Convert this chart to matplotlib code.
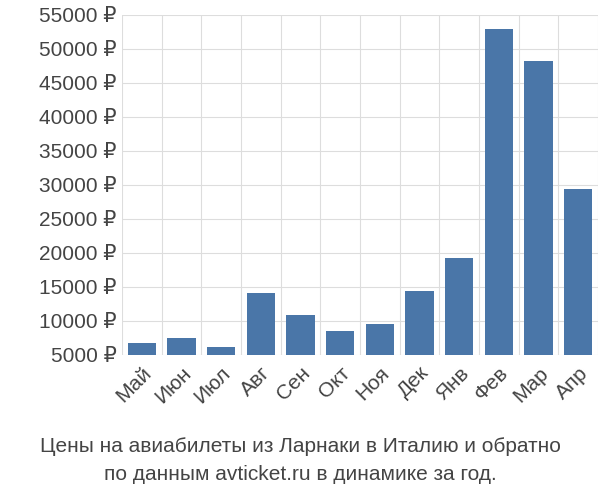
import matplotlib
matplotlib.use("Agg")
import matplotlib.pyplot as plt
import numpy as np

months = ["Май","Июн","Июл","Авг","Сен","Окт","Ноя","Дек","Янв","Фев","Мар","Апр"]
prices = [6760, 7500, 6180, 14100, 10900, 8500, 9560, 14400, 19260, 52940, 48240, 29400]
yticks = list(range(5000, 55001, 5000))

plt.rcParams["font.family"] = ["Liberation Sans", "DejaVu Sans"]
fig = plt.figure(figsize=(6, 5), dpi=100)
ax = fig.add_axes([122/600, 145/500, 476/600, 340/500])
x = np.arange(len(months))
ax.bar(x, [p - 5000 for p in prices], bottom=5000, width=0.72, color="#4a76a8", zorder=3)
ax.set_xlim(-0.5, len(months) - 0.5)
ax.set_ylim(5000, 55000)
ax.set_yticks(yticks)
ax.set_yticklabels([f"{v} ₽" for v in yticks], fontsize=15, color="#444444")
ax.set_xticks(x)
ax.set_xticklabels(months, rotation=45, ha="right", rotation_mode="anchor", fontsize=15, color="#444444")
ax.set_xticks(np.arange(-0.5, len(months), 1), minor=True)
ax.grid(axis="y", color="#dddddd", zorder=0)
ax.grid(axis="x", which="minor", color="#dddddd", zorder=0)
ax.tick_params(axis="x", which="major", length=0, pad=6)
ax.tick_params(axis="x", which="minor", length=0)
ax.tick_params(axis="y", length=0, pad=4)
for s in ax.spines.values():
    s.set_visible(False)
fig.text(0.5, 1 - 447/500, "Цены на авиабилеты из Ларнаки в Италию и обратно", ha="center", va="center", fontsize=15, color="#444444")
fig.text(0.5, 1 - 475/500, "по данным avticket.ru в динамике за год.", ha="center", va="center", fontsize=15, color="#444444")
fig.savefig("out.png", dpi=100)
